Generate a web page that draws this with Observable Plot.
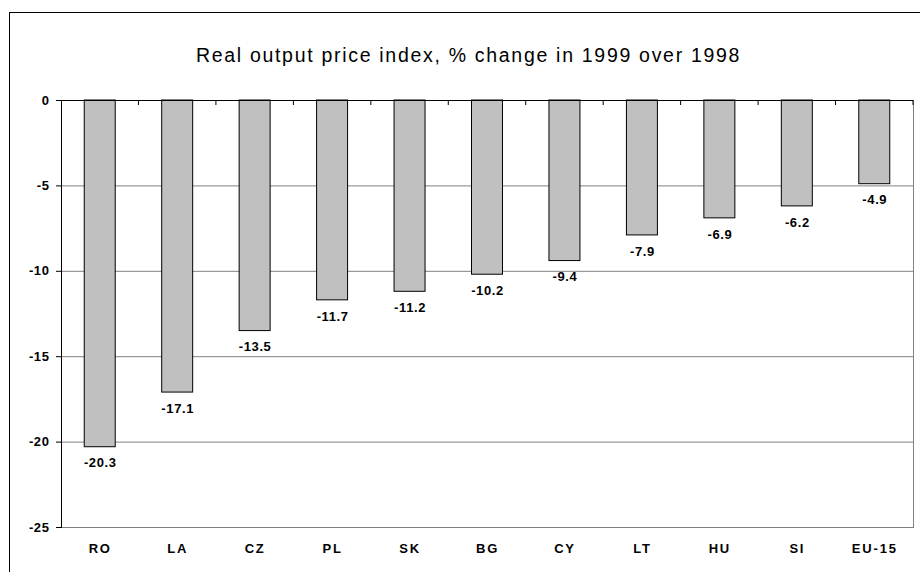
<!DOCTYPE html>
<html>
<head>
<meta charset="utf-8">
<script src="https://cdn.jsdelivr.net/npm/d3@7"></script>
<script src="https://cdn.jsdelivr.net/npm/@observablehq/plot@0.6"></script>
<style>
  html, body { margin: 0; padding: 0; background: #fff; }
  #wrap { position: relative; width: 920px; height: 572px; overflow: hidden; }
  #border { position: absolute; left: 9px; top: 12px; right: -2px; bottom: -2px; border-top: 1px solid #000; border-left: 1px solid #000; pointer-events: none; }
  svg { font-family: "Liberation Sans", Arial, sans-serif; }
  .chart-title text, text.chart-title { letter-spacing: 1.7px; }
  .value-labels text, text.value-labels { letter-spacing: 0.6px; }
  g[aria-label="x-axis tick label"] text { letter-spacing: 1.8px; }
  g[aria-label="y-axis tick label"] text { letter-spacing: 0.6px; }
</style>
</head>
<body>
<div id="wrap"><div id="border"></div></div>
<script>
const countries = ["RO", "LA", "CZ", "PL", "SK", "BG", "CY", "LT", "HU", "SI", "EU-15"];
const changes = [-20.3, -17.1, -13.5, -11.7, -11.2, -10.2, -9.4, -7.9, -6.9, -6.2, -4.9];
const yTicks = [0, -5, -10, -15, -20, -25];
const gridTicks = [-5, -10, -15, -20, -25];
const title = "Real output price index, % change in 1999 over 1998";

const data = countries.map((c, i) => ({country: c, value: changes[i]}));

const plot = Plot.plot({
  width: 920,
  height: 572,
  marginLeft: 61,
  marginRight: 7,
  marginTop: 100,
  marginBottom: 45,
  style: {fontFamily: "'Liberation Sans', Arial, sans-serif", background: "transparent"},
  x: {domain: countries, paddingInner: 0.6, paddingOuter: 0.3, round: false, label: null},
  y: {domain: [-25, 0], label: null},
  marks: [
    Plot.ruleY(gridTicks, {stroke: "#808080", strokeWidth: 1}),
    Plot.frame({anchor: "right", stroke: "#808080"}),
    Plot.barY(data, {x: "country", y: "value", fill: "#c0c0c0", stroke: "#000", strokeWidth: 1}),
    Plot.ruleY([0], {stroke: "#000", strokeWidth: 1}),
    Plot.frame({anchor: "left", stroke: "#000"}),
    Plot.text(data, {x: "country", y: "value", text: d => d.value.toFixed(1), dy: 16, fontWeight: "bold", fontSize: 13, fill: "#000", className: "value-labels"}),
    Plot.axisY({ticks: yTicks, tickFormat: d => String(d), tickSize: 5, tickPadding: 7, fontWeight: "bold", fontSize: 13, stroke: "#000", color: "#000"}),
    Plot.axisX({tickSize: 0, tickPadding: 16, fontWeight: "bold", fontSize: 13, color: "#000"}),
    Plot.text([title], {frameAnchor: "top", dy: -52, dx: -19, fontSize: 19.5, fill: "#000", className: "chart-title"})
  ]
});

document.getElementById("wrap").prepend(plot);

// tick marks at category boundaries on the zero line, derived from the x scale
const xs = plot.scale("x");
const ys = plot.scale("y");
const gap = xs.step - xs.bandwidth;
const y0 = ys.apply(0);
const svg = d3.select(plot);
countries.forEach((c, i) => {
  if (i === 0) return;
  const bx = xs.apply(c) - gap / 2;
  svg.append("line").attr("x1", bx).attr("x2", bx).attr("y1", y0).attr("y2", y0 + 5).attr("stroke", "#000");
});
{
  const last = countries[countries.length - 1];
  const bx = xs.apply(last) + xs.bandwidth + gap / 2;
  svg.append("line").attr("x1", bx).attr("x2", bx).attr("y1", y0).attr("y2", y0 + 5).attr("stroke", "#000");
}
</script>
</body>
</html>
